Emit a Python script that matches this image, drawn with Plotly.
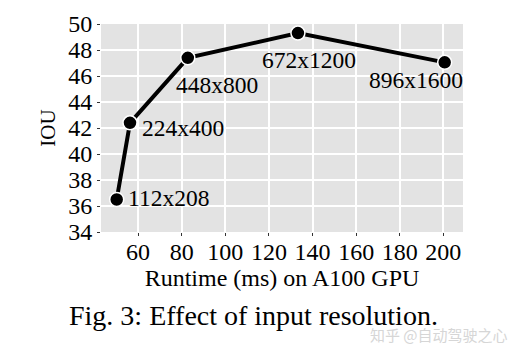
import plotly.graph_objects as go

runtime_ms = [50.2, 56.3, 82.8, 133.3, 200.6]
iou = [36.5, 42.4, 47.4, 49.3, 47.05]
resolutions = ["112x208", "224x400", "448x800", "672x1200", "896x1600"]
x_ticks = [60, 80, 100, 120, 140, 160, 180, 200]
y_ticks = [34, 36, 38, 40, 42, 44, 46, 48, 50]

FONT = "Liberation Serif"
fig = go.Figure()
fig.add_trace(go.Scatter(
    x=runtime_ms, y=iou, mode="lines+markers",
    line=dict(color="black", width=4),
    marker=dict(size=14, color="black", line=dict(color="white", width=1.5)),
    showlegend=False, hoverinfo="skip",
))

# label offsets (px): (xanchor, xshift, yshift)
offsets = [("left", 9, 2), ("left", 10, -5), ("center", 29, -27), ("center", 11, -27), ("center", -29, -18)]
for xv, yv, t, (xa, xs, ys) in zip(runtime_ms, iou, resolutions, offsets):
    fig.add_annotation(x=xv, y=yv, text=t, showarrow=False, xanchor=xa, yanchor="middle",
                       xshift=xs, yshift=ys, font=dict(family=FONT, size=23.5, color="black"))

fig.add_annotation(xref="paper", yref="paper", x=0.5, y=-0.40, text="Fig. 3: Effect of input resolution.",
                   showarrow=False, xanchor="center", yanchor="middle", xshift=-29,
                   font=dict(family=FONT, size=28, color="black"))
fig.add_annotation(xref="paper", yref="paper", x=1.13, y=-0.495, text="知乎 @自动驾驶之心",
                   showarrow=False, xanchor="right", yanchor="middle",
                   font=dict(family="Noto Sans CJK SC", size=15, color="#d6d6d6"))

fig.update_layout(
    width=516, height=349,
    margin=dict(l=93, r=61, t=16, b=125),
    paper_bgcolor="white", plot_bgcolor="#e3e3e3",
    font=dict(family=FONT, size=24, color="black"),
    xaxis=dict(range=[43, 209], tickvals=x_ticks, showgrid=True, gridcolor="white", gridwidth=2,
               zeroline=False, ticks="outside", ticklen=3, tickcolor="#333", tickwidth=1,
               ticklabelstandoff=-5, tickfont=dict(size=24), automargin=False,
               title=dict(text="Runtime (ms) on A100 GPU", standoff=0, font=dict(size=24))),
    yaxis=dict(range=[34, 50], tickvals=y_ticks, showgrid=True, gridcolor="white", gridwidth=2,
               zeroline=False, ticks="outside", ticklen=3, tickcolor="#333", tickwidth=1,
               tickfont=dict(size=24), automargin=False,
               title=dict(text="IOU", standoff=6, font=dict(size=21))),
)
fig.write_html("out.html")
